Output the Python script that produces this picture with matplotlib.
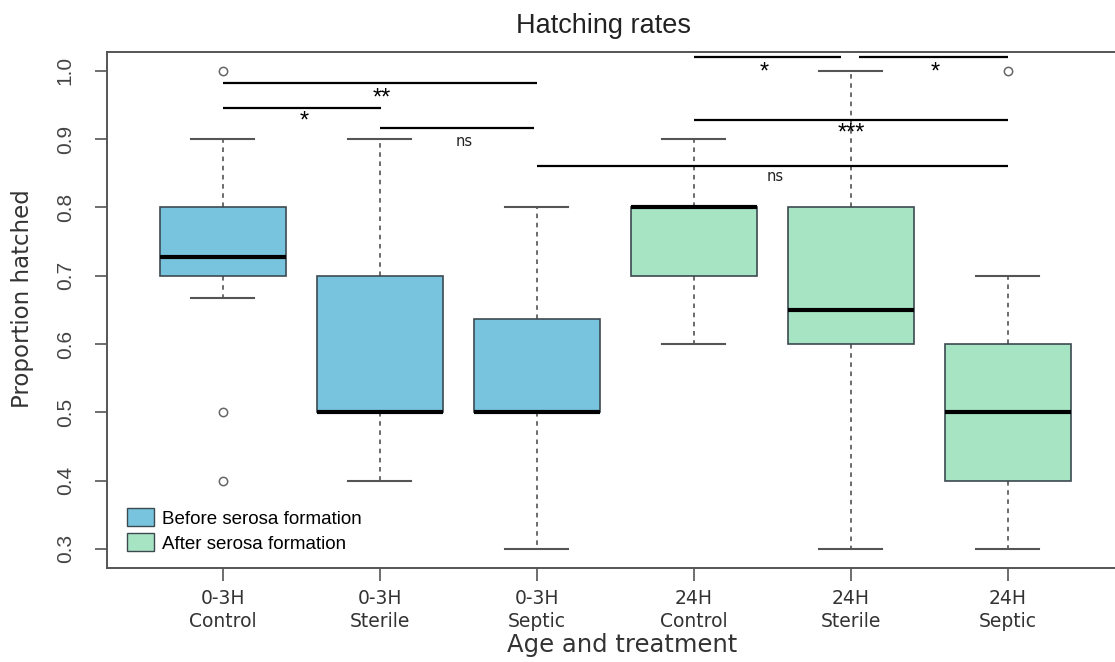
import matplotlib
matplotlib.use("Agg")
import matplotlib.pyplot as plt
from matplotlib.patches import Patch

# box statistics
groups = ["0-3H\nControl", "0-3H\nSterile", "0-3H\nSeptic",
          "24H\nControl", "24H\nSterile", "24H\nSeptic"]
q1 = [0.70, 0.50, 0.50, 0.70, 0.60, 0.40]
med = [0.727, 0.50, 0.50, 0.80, 0.65, 0.50]
q3 = [0.80, 0.70, 0.636, 0.80, 0.80, 0.60]
whislo = [0.667, 0.40, 0.30, 0.60, 0.30, 0.30]
whishi = [0.90, 0.90, 0.80, 0.90, 1.00, 0.70]
fliers = [[1.0, 0.5, 0.4], [], [], [], [], [1.0]]
stage = ["before", "before", "before", "after", "after", "after"]

# significance brackets: (x start, x end, line y, label, label x, label y)
sig_x0 = [1.0, 1.0, 2.0, 3.0, 4.0, 4.0, 5.05]
sig_x1 = [3.0, 2.01, 2.98, 6.0, 6.0, 4.94, 6.0]
sig_y = [0.9825, 0.946, 0.9165, 0.861, 0.928, 1.0195, 1.0195]
sig_lab = ["**", "*", "ns", "ns", "***", "*", "*"]
sig_lx = [2.01, 1.52, 2.54, 4.52, 5.0, 4.45, 5.54]
sig_ly = [0.966, 0.931, 0.897, 0.845, 0.914, 1.003, 1.003]

colors = {"before": "#78c4de", "after": "#a6e4c4"}

fig = plt.figure(figsize=(11.15, 6.62), dpi=100)
ax = fig.add_axes([0.0957, 0.142, 0.9124, 0.780])

stats = []
for i in range(len(groups)):
    stats.append(dict(med=med[i], q1=q1[i], q3=q3[i], whislo=whislo[i],
                      whishi=whishi[i], fliers=fliers[i]))

bp = ax.bxp(stats, positions=range(1, 7), widths=0.8, capwidths=0.4,
            patch_artist=True, showfliers=True,
            boxprops=dict(edgecolor="#3c4a50", linewidth=1.2),
            medianprops=dict(color="black", linewidth=3, solid_capstyle="butt"),
            whiskerprops=dict(color="#444444", linewidth=1.1, linestyle=(0, (3, 3))),
            capprops=dict(color="#555555", linewidth=1.5),
            flierprops=dict(marker="o", markerfacecolor="none",
                            markeredgecolor="#666666", markersize=6, markeredgewidth=1.1))
for patch, s in zip(bp["boxes"], stage):
    patch.set_facecolor(colors[s])

for x0, x1, y, lab, lx, ly in zip(sig_x0, sig_x1, sig_y, sig_lab, sig_lx, sig_ly):
    ax.plot([x0, x1], [y, y], color="black", linewidth=1.6, solid_capstyle="butt")
    if lab == "ns":
        ax.text(lx, ly, lab, ha="center", va="center", fontsize=10.5,
                family="DejaVu Sans", color="#222222")
    else:
        ax.text(lx, ly - 0.006, lab, ha="center", va="center", fontsize=17,
                family="Liberation Sans", color="black")

ax.set_xlim(0.26, 6.74)
ax.set_ylim(0.272, 1.028)
ax.set_xticks(range(1, 7))
ax.set_xticklabels(groups, family="DejaVu Sans", fontsize=13.5, color="#333333",
                   linespacing=1.25)
ax.set_yticks([0.3, 0.4, 0.5, 0.6, 0.7, 0.8, 0.9, 1.0])
ax.set_yticklabels(["0.3", "0.4", "0.5", "0.6", "0.7", "0.8", "0.9", "1.0"],
                   family="Liberation Sans", fontsize=15, color="#444444",
                   rotation=90, va="center")
ax.tick_params(axis="x", length=9, width=1.2, color="#555555", pad=6)
ax.tick_params(axis="y", length=9, width=1.2, color="#555555", pad=14)
for side in ["left", "bottom", "top"]:
    ax.spines[side].set_color("#555555")
    ax.spines[side].set_linewidth(1.4)
ax.spines["right"].set_visible(False)

handles = [Patch(facecolor=colors["before"], edgecolor="#3c4a50", label="Before serosa formation"),
           Patch(facecolor=colors["after"], edgecolor="#3c4a50", label="After serosa formation")]
ax.legend(handles=handles, loc="lower left", bbox_to_anchor=(0.02, 0.03),
          frameon=False, borderpad=0, borderaxespad=0, handlelength=1.45,
          handleheight=1.1, handletextpad=0.4, labelspacing=0.3,
          prop=dict(family="Liberation Sans", size=13.5))

fig.text(604 / 1115, 1 - 26 / 662, "Hatching rates", ha="center", va="center",
         family="Liberation Sans", fontsize=19.5, color="#222222")
fig.text(23 / 1115, 1 - 299 / 662, "Proportion hatched", ha="center", va="center",
         rotation=90, family="DejaVu Sans", fontsize=16.5, color="#333333")
fig.text(622 / 1115, 1 - 645 / 662, "Age and treatment", ha="center", va="center",
         family="DejaVu Sans", fontsize=17.5, color="#333333")

fig.savefig("out.png", dpi=100)
